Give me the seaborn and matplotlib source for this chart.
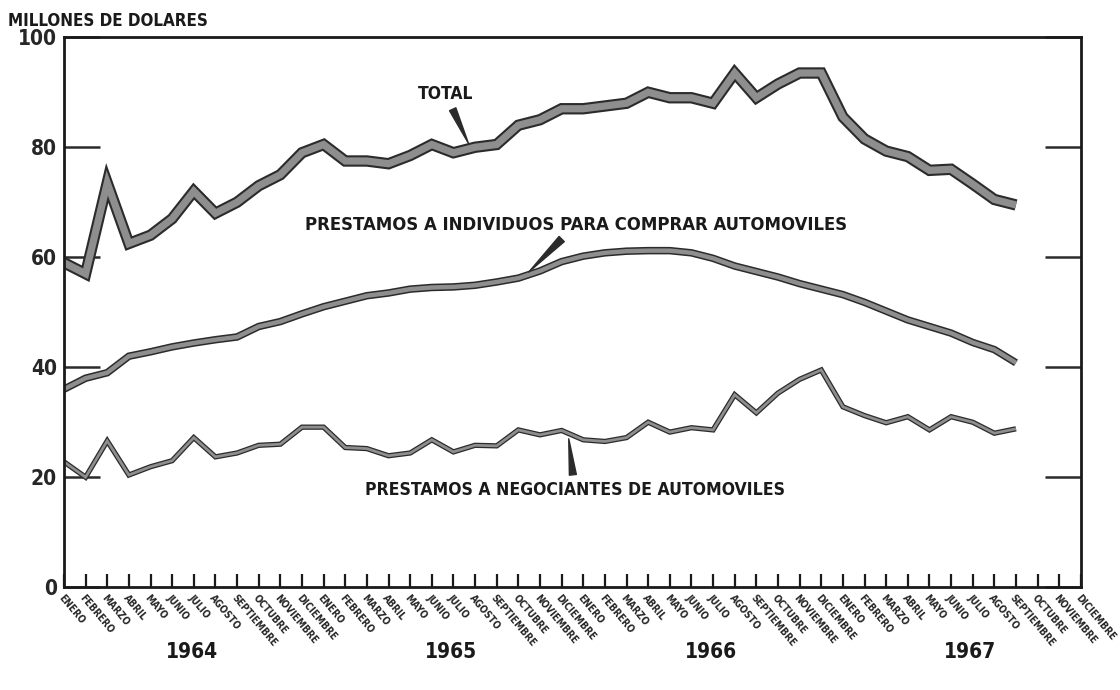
import numpy as np
import pandas as pd
import seaborn as sns
import matplotlib.pyplot as plt
import matplotlib.patheffects as pe
import matplotlib.transforms as mtransforms

# monthly values, enero 1964 .. septiembre 1967 (millones de dolares)
total = [59, 57, 73.5, 62.5, 64, 67, 72, 68, 70, 73, 75, 79, 80.5, 77.5, 77.5,
         77, 78.5, 80.5, 79, 80, 80.5, 84, 85, 87, 87, 87.5, 88, 90, 89, 89,
         88, 93.5, 89, 91.5, 93.5, 93.5, 85.5, 81.5, 79.3, 78.3, 75.8, 76, 73.3, 70.5, 69.5]
individuos = [36, 38, 39, 42, 42.8, 43.7, 44.4, 45, 45.5, 47.4, 48.3, 49.7, 51, 52, 53,
              53.5, 54.2, 54.5, 54.6, 54.9, 55.5, 56.2, 57.5, 59.2, 60.2, 60.8, 61.1, 61.2, 61.2, 60.8,
              59.8, 58.4, 57.4, 56.4, 55.2, 54.2, 53.2, 51.8, 50.2, 48.6, 47.4, 46.2, 44.5, 43.2, 40.8]
negociantes = [22.8, 20, 26.6, 20.4, 21.9, 23, 27.2, 23.7, 24.4, 25.8, 26, 29.1, 29.1, 25.4, 25.2,
               23.9, 24.4, 26.8, 24.6, 25.8, 25.7, 28.6, 27.7, 28.5, 26.8, 26.5, 27.2, 30, 28.2, 29,
               28.6, 35, 31.7, 35.3, 37.8, 39.5, 32.8, 31.2, 29.9, 31, 28.6, 31, 30, 28, 28.8]

meses = ["ENERO", "FEBRERO", "MARZO", "ABRIL", "MAYO", "JUNIO", "JULIO", "AGOSTO",
         "SEPTIEMBRE", "OCTUBRE", "NOVIEMBRE", "DICIEMBRE"]
anios = ["1964", "1965", "1966", "1967"]
yticks = [0, 20, 40, 60, 80, 100]

idx = np.arange(len(total))
df = pd.DataFrame({"mes": idx, "total": total, "individuos": individuos,
                   "negociantes": negociantes})

sns.set_style("white")
plt.rcParams["font.family"] = ["DejaVu Sans"]
plt.rcParams["font.stretch"] = "condensed"
plt.rcParams["font.weight"] = "bold"

fill = "#8e8e8e"
edge = "#2b2b2b"
ink = "#1a1a1a"

fig = plt.figure(figsize=(11.2, 6.9), dpi=100)
ax = fig.add_axes([0.0571, 0.149, 0.908, 0.797])

for col, inner, outer in [("total", 5.2, 8.2), ("individuos", 3.2, 5.4), ("negociantes", 2.0, 3.8)]:
    sns.lineplot(data=df, x="mes", y=col, ax=ax, color=fill, linewidth=inner,
                 solid_joinstyle="miter", solid_capstyle="butt",
                 path_effects=[pe.Stroke(linewidth=outer, foreground=edge), pe.Normal()])

ax.set_xlim(0, 47)
ax.set_ylim(0, 100)
ax.set_xlabel("")
ax.set_ylabel("")

for s in ax.spines.values():
    s.set_visible(True)
    s.set_color(ink)
    s.set_linewidth(2.0)

# y ticks: short lines inside, both sides
ax.set_yticks(yticks)
ax.set_yticklabels([str(v) for v in yticks], fontsize=15)
ax.tick_params(axis="y", direction="in", length=26, width=1.8, color=edge,
               left=True, right=True, pad=5)

# x ticks: every month, longer ticks at diciembre
ax.set_xticks(range(48))
ax.set_xticklabels(meses * 4, rotation=-50, ha="left", va="top",
                   rotation_mode="anchor", fontsize=7.2)
ax.tick_params(axis="x", direction="in", length=9.5, width=1.6, color=ink,
               bottom=True, pad=4)
ax.set_xticks([11, 23, 35], minor=True)
ax.tick_params(axis="x", which="minor", direction="in", length=21, width=1.6,
               color=ink, bottom=True)

trans = mtransforms.blended_transform_factory(ax.transData, ax.transAxes)
for k, a in enumerate(anios):
    ax.text(12 * k + 5.9, -0.118, a, transform=trans, ha="center", va="center",
            fontsize=15, color=ink)

fig.text(0.007, 0.97, "MILLONES DE DOLARES", ha="left", va="center",
         fontsize=12.2, color=ink)

wedge = dict(arrowstyle="wedge,tail_width=0.4,shrink_factor=0.5", color=edge,
             shrinkA=2, shrinkB=4)
ax.annotate("TOTAL", xy=(18.8, np.interp(18.8, idx, total)), xytext=(17.65, 89.6),
            ha="center", va="center", fontsize=12.5, color=ink, arrowprops=wedge)
ax.annotate("PRESTAMOS A INDIVIDUOS PARA COMPRAR AUTOMOVILES",
            xy=(21.3, np.interp(21.3, idx, individuos)), xytext=(23.66, 65.9),
            ha="center", va="center", fontsize=13.2, color=ink, arrowprops=wedge)
ax.annotate("PRESTAMOS A NEGOCIANTES DE AUTOMOVILES",
            xy=(23.3, np.interp(23.3, idx, negociantes)), xytext=(23.6, 17.7),
            ha="center", va="center", fontsize=12.6, color=ink, arrowprops=wedge)

fig.savefig("out.png", dpi=100, facecolor="white")
